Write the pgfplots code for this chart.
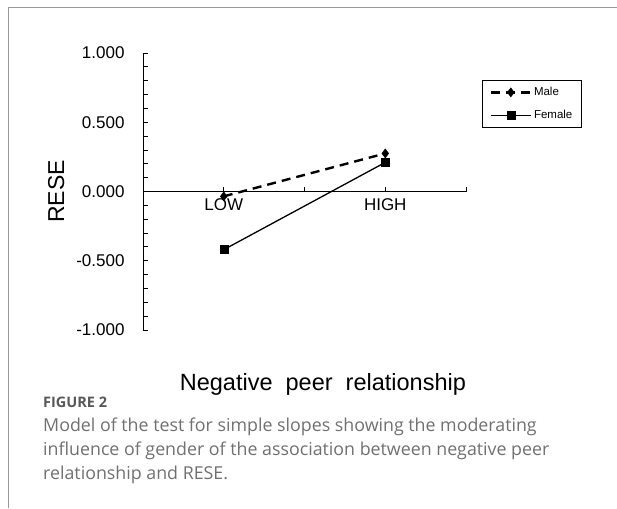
\documentclass[border=0pt]{standalone}
\usepackage{fontspec}
\setmainfont{Liberation Sans}
\newfontfamily\capfont{Open Sans}
\usepackage{pgfplots}
\pgfplotsset{compat=1.18}
\definecolor{framegray}{HTML}{9A9A9A}
\definecolor{capgray}{HTML}{707070}
\definecolor{figgray}{HTML}{585858}
\begin{document}
\begin{tikzpicture}
\useasboundingbox (0pt,0pt) rectangle (617pt,-508pt);
\draw[framegray, line width=1.2pt] (8.5pt,-508pt) -- (8.5pt,-7.5pt) -- (617pt,-7.5pt);
\begin{axis}[
  at={(143pt,-330pt)}, anchor=south west,
  scale only axis, width=323pt, height=277pt,
  xmin=-0.5, xmax=1.5, ymin=-1, ymax=1,
  axis x line=middle, axis y line=left,
  axis line style={-, black, line width=1pt},
  hide obscured x ticks=false, hide obscured y ticks=false,
  xtick={0,1}, xticklabels={LOW,HIGH},
  minor xtick={0.5,1.5},
  xtick align=inside,
  ytick={-1,-0.5,0,0.5,1},
  minor y tick num=4,
  ytick align=inside,
  major tick length=5pt, minor tick length=5pt,
  tick style={black, line width=0.9pt},
  /pgf/number format/assume math mode=true,
  yticklabel style={/pgf/number format/fixed, /pgf/number format/fixed zerofill, /pgf/number format/precision=3,
    font=\fontsize{17}{20}\selectfont, xshift=-15pt},
  xticklabel style={font=\fontsize{17}{20}\selectfont, yshift=-4pt},
  every axis y label/.style={at={(axis description cs:-0.269,0.5)}, anchor=center, rotate=90,
    font=\fontsize{23}{26}\selectfont},
  every axis x label/.style={at={(axis description cs:0.557,-0.195)}, anchor=center,
    font=\fontsize{23.5}{26}\selectfont},
  ylabel={RESE},
  xlabel={Negative\ \ peer\ \ relationship},
  clip=false,
  legend style={at={(axis description cs:1.050,0.9025)}, anchor=north west,
    draw=black, line width=0.9pt, fill=white,
    font=\fontsize{11.5}{13}\selectfont,
    inner xsep=7pt, inner ysep=5pt, row sep=9pt,
    cells={anchor=west}},
  legend image code/.code={\draw[mark repeat=2,mark phase=2,#1] plot coordinates {(0pt,0pt) (20pt,0pt) (40pt,0pt)};},
]
\addplot[black, line width=2.4pt, dash pattern=on 9pt off 6pt, mark=diamond*, mark size=4.5pt, mark options={solid, line width=0.5pt}]
  coordinates {(0,-0.035) (1,0.275)};
\addlegendentry{Male}
\addplot[black, line width=1.3pt, mark=square*, mark size=4pt, mark options={solid, line width=0.5pt}]
  coordinates {(0,-0.42) (1,0.21)};
\addlegendentry{Female}
\end{axis}
\node[anchor=base west, inner sep=0pt, text=figgray, font=\capfont\bfseries\fontsize{14.5}{16}\selectfont] at (43pt,-407pt) {FIGURE 2};
\node[anchor=base west, inner sep=0pt, text=capgray, font=\capfont\fontsize{17.8}{20}\selectfont] at (43pt,-431pt) {Model of the test for simple slopes showing the moderating};
\node[anchor=base west, inner sep=0pt, text=capgray, font=\capfont\fontsize{17.8}{20}\selectfont] at (43pt,-455pt) {influence of gender of the association between negative peer};
\node[anchor=base west, inner sep=0pt, text=capgray, font=\capfont\fontsize{17.8}{20}\selectfont] at (43pt,-479pt) {relationship and RESE.};
\end{tikzpicture}
\end{document}
